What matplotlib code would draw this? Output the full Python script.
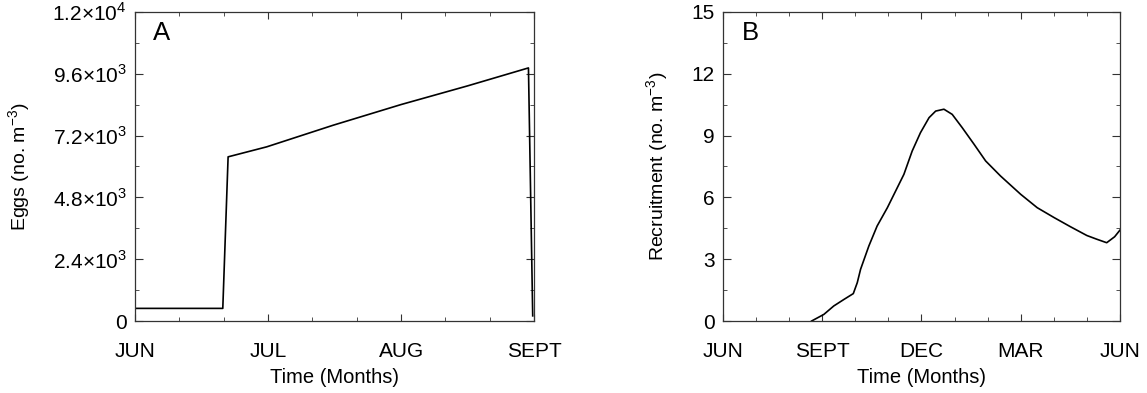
import numpy as np
import matplotlib.pyplot as plt
from matplotlib.ticker import MultipleLocator

plt.rcParams['font.family'] = ['Liberation Sans', 'DejaVu Sans']
plt.rcParams['mathtext.fontset'] = 'custom'
plt.rcParams['mathtext.rm'] = 'Liberation Sans'

# panel A: eggs, months after June 1
egg_t = [0.0, 0.66, 0.70, 0.99, 1.49, 2.00, 2.50, 2.958, 2.99]
egg_v = [490, 490, 6375, 6763, 7603, 8405, 9130, 9828, 200]
egg_ticks = [0, 1, 2, 3]
egg_labels = ['JUN', 'JUL', 'AUG', 'SEPT']
egg_yticks = [0, 2400, 4800, 7200, 9600, 12000]
egg_ylabels = ['0', '2.4×10$^3$', '4.8×10$^3$', '7.2×10$^3$',
               '9.6×10$^3$', '1.2×10$^4$']

# panel B: recruitment, months after June 1
rec_t = [2.68, 3.05, 3.35, 3.66, 3.94, 4.06, 4.16, 4.41, 4.66, 4.97, 5.22, 5.47,
         5.72, 5.97, 6.23, 6.43, 6.68, 6.93, 7.23, 7.59, 7.94, 8.39, 9.00, 9.50,
         10.01, 10.50, 11.00, 11.30, 11.60, 11.84, 12.0]
rec_v = [0.0, 0.32, 0.73, 1.05, 1.33, 1.86, 2.51, 3.64, 4.61, 5.50, 6.31, 7.12,
         8.25, 9.14, 9.87, 10.19, 10.28, 10.03, 9.39, 8.58, 7.77, 7.04, 6.15, 5.50,
         5.02, 4.58, 4.15, 3.97, 3.80, 4.09, 4.41]
rec_ticks = [0, 3, 6, 9, 12]
rec_labels = ['JUN', 'SEPT', 'DEC', 'MAR', 'JUN']
rec_yticks = [0, 3, 6, 9, 12, 15]

fig = plt.figure(figsize=(11.47, 3.93), dpi=100)
axA = fig.add_axes([0.1177, 0.1832, 0.3479, 0.7863])
axB = fig.add_axes([0.6303, 0.1832, 0.3461, 0.7863])


def style(ax):
    for s in ax.spines.values():
        s.set_linewidth(0.9)
        s.set_color('#333333')
    ax.tick_params(which='both', direction='in', top=True, right=True,
                   color='#333333')
    ax.tick_params(axis='x', which='major', length=5, pad=15, labelsize=15)
    ax.tick_params(axis='x', which='minor', length=3)
    ax.tick_params(axis='y', which='major', length=5.5, pad=6, labelsize=15)
    ax.tick_params(axis='y', which='minor', length=3)
    ax.set_xlabel('Time (Months)', fontsize=14.5, labelpad=5)


axA.plot(egg_t, egg_v, color='black', lw=1.2)
axA.set_xlim(0, 3)
axA.set_ylim(0, 12000)
axA.set_xticks(egg_ticks)
axA.set_xticklabels(egg_labels)
axA.xaxis.set_minor_locator(MultipleLocator(1 / 3))
axA.set_yticks(egg_yticks)
axA.set_yticklabels(egg_ylabels)
axA.yaxis.set_minor_locator(MultipleLocator(1200))
axA.set_ylabel(r'Eggs (no. m$^{-3}$)', fontsize=14)
axA.yaxis.set_label_coords(-0.255, 0.5)
axA.text(0.045, 0.97, 'A', transform=axA.transAxes, fontsize=18.5, va='top')
style(axA)

axB.plot(rec_t, rec_v, color='black', lw=1.2)
axB.set_xlim(0, 12)
axB.set_ylim(0, 15)
axB.set_xticks(rec_ticks)
axB.set_xticklabels(rec_labels)
axB.xaxis.set_minor_locator(MultipleLocator(1))
axB.set_yticks(rec_yticks)
axB.yaxis.set_minor_locator(MultipleLocator(1.5))
axB.set_ylabel(r'Recruitment (no. m$^{-3}$)', fontsize=14)
axB.yaxis.set_label_coords(-0.13, 0.5)
axB.text(0.047, 0.97, 'B', transform=axB.transAxes, fontsize=18.5, va='top')
style(axB)

fig.savefig('out.png', dpi=100)
